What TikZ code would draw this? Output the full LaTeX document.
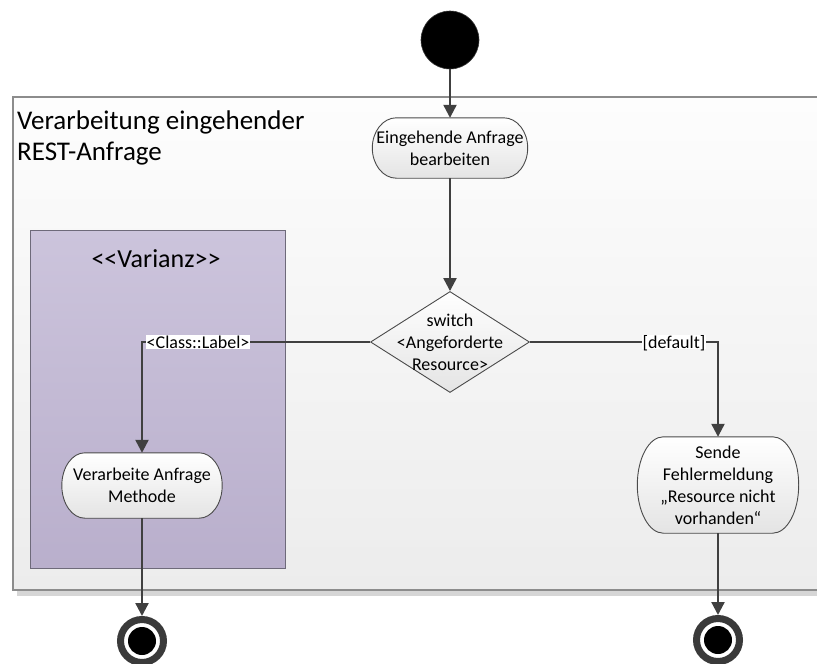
\documentclass[tikz,border=0pt]{standalone}
\usepackage{fontspec}
\setmainfont{Carlito}[Ligatures=TeXOff]
\usetikzlibrary{arrows.meta,shapes.geometric,calc}
\pgfdeclarelayer{bg}
\pgfdeclarelayer{mid}
\pgfsetlayers{bg,mid,main}
\definecolor{linec}{HTML}{404040}
\definecolor{actline}{HTML}{4A4A4A}
\definecolor{actbot}{HTML}{E4E4E4}
\definecolor{boxline}{HTML}{8C8C8C}
\definecolor{boxtop}{HTML}{FDFDFD}
\definecolor{boxbot}{HTML}{ECECEC}
\definecolor{shadowc}{HTML}{D6D6D6}
\definecolor{vartop}{HTML}{CCC4DC}
\definecolor{varbot}{HTML}{B9AFCC}
\definecolor{varline}{HTML}{6E6A7A}
\definecolor{ringc}{HTML}{3A3A3A}
\newcommand\actbody[2]{%
  \begin{pgfonlayer}{mid}
  \shade[top color=white,bottom color=actbot,draw=actline,line width=0.9pt]
    let \p1=(#1.north east), \p2=(#1.south west), \n1={(\y1-\y2)/2} in
    ([xshift=-#2]#1.north east) arc[start angle=90,end angle=-90,x radius=#2,y radius=\n1]
    -- ([xshift=#2]#1.south west) arc[start angle=270,end angle=90,x radius=#2,y radius=\n1]
    -- cycle;
  \end{pgfonlayer}}
\begin{document}
\begin{tikzpicture}[x=1pt,y=1pt,
  flow/.style={draw=linec, line width=2.3pt, -{Triangle[length=13pt,width=13pt]}},
  act/.style={rectangle, inner sep=0pt, align=center, font=\fontsize{18}{22}\selectfont},
  lbl/.style={fill=white, inner sep=1pt, font=\fontsize{18}{22}\selectfont, text height=12.5pt, text depth=0pt},
  finalnode/.style={circle, minimum size=43pt, inner sep=0pt, draw=ringc, line width=7pt, fill=white,
     path picture={\fill[black] (path picture bounding box.center) circle (14pt);}},
  startnode/.style={circle, minimum size=58pt, inner sep=0pt, fill=black, draw=ringc, line width=0.6pt}
]
\useasboundingbox (0,0) rectangle (817,-664);

% outer partition
\begin{pgfonlayer}{bg}
  \fill[shadowc] (17,-590) rectangle (817,-596);
  \shade[top color=boxtop,bottom color=boxbot] (13,-97) rectangle (817,-590);
  \draw[boxline,line width=1.5pt] (817,-97) -- (13,-97) -- (13,-590) -- (817,-590);
  \shade[top color=vartop,bottom color=varbot,draw=varline,line width=1pt] (30,-230) rectangle (285,-568);
\end{pgfonlayer}

\node[anchor=north west, inner sep=0pt, align=left, font=\fontsize{27}{31}\selectfont] (title) at (17,-111)
  {Verarbeitung eingehender\\REST-Anfrage};
\node[anchor=base, inner sep=0pt, font=\fontsize{26}{30}\selectfont] (vartitle) at (156,-267) {<<Varianz>>};

% nodes
\node[startnode] (start) at (450,-40) {};
\node[act, minimum width=155pt, minimum height=60pt] (e1) at (450,-148) {Eingehende Anfrage\\bearbeiten};
\actbody{e1}{24pt}
\node[diamond, minimum width=159pt, minimum height=101pt, inner sep=0pt, draw=actline, line width=0.9pt,
      top color=white, bottom color=actbot] (sw) at (450,-342) {};
\node[act] (swt) at (sw.center) {switch\\<Angeforderte\\Resource>};
\node[act, minimum width=160pt, minimum height=65pt] (va) at (142,-485.5) {Verarbeite Anfrage\\Methode};
\actbody{va}{23pt}
\node[act, minimum width=161pt, minimum height=96pt] (se) at (718,-485) {Sende\\Fehlermeldung\\„Resource nicht\\vorhanden“};
\actbody{se}{26pt}
\node[finalnode] (f1) at (142,-641) {};
\node[finalnode] (f2) at (718,-640) {};

% connectors
\draw[flow] (start) -- (e1);
\draw[flow] (e1) -- (sw);
\draw[flow] (sw.west) -| node[lbl, pos=0.377] (l1) {<Class::Label>} (va.north);
\draw[flow] (sw.east) -| node[lbl, pos=0.383] (l2) {[default]} (se.north);
\draw[flow] (va) -- (f1);
\draw[flow] (se) -- (f2);
\end{tikzpicture}
\end{document}
